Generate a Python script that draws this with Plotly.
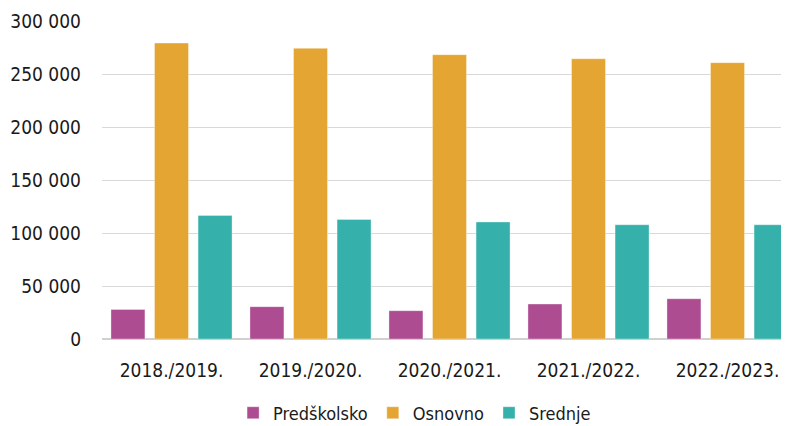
import plotly.graph_objects as go

categories = ["2018./2019.", "2019./2020.", "2020./2021.", "2021./2022.", "2022./2023."]
predskolsko = [27900, 30500, 26700, 33000, 38000]
osnovno = [279200, 274200, 268200, 264400, 260700]
srednje = [116600, 112800, 110400, 107800, 107800]
series_names = ["Predškolsko", "Osnovno", "Srednje"]
colors = ["#AE4C92", "#E5A532", "#35B0AA"]
tick_vals = [0, 50000, 100000, 150000, 200000, 250000, 300000]
tick_text = ["0", "50 000", "100 000", "150 000", "200 000", "250 000", "300 000"]

font_family = "DejaVu Sans Condensed, DejaVu Sans, sans-serif"
fnt = dict(family=font_family, size=19, color="#1a1a1a")

fig = go.Figure()
for name, vals, col in zip(series_names, [predskolsko, osnovno, srednje], colors):
    fig.add_trace(go.Bar(
        x=list(range(len(categories))), y=vals, name=name,
        marker=dict(color=col, line=dict(color="rgba(255,255,255,0.35)", width=1)),
    ))

fig.update_layout(
    width=781, height=418,
    barmode="group", bargap=0.06, bargroupgap=0.22,
    plot_bgcolor="white", paper_bgcolor="white",
    margin=dict(l=94, r=0, t=13, b=87, autoexpand=False),
    font=fnt,
    showlegend=True,
    legend=dict(orientation="h", x=0.455, xanchor="center", yref="container",
                y=0.031, yanchor="middle",
                font=dict(family=font_family, size=18, color="#1a1a1a"),
                itemwidth=30, traceorder="normal"),
    xaxis=dict(
        tickmode="array", tickvals=list(range(len(categories))), ticktext=categories,
        range=[-0.5, 4.4424], showgrid=False, showline=False, ticks="",
        tickfont=fnt, ticklabelstandoff=18, automargin=False,
    ),
    yaxis=dict(
        tickmode="array", tickvals=tick_vals, ticktext=tick_text,
        range=[0, 300000], showgrid=True, gridcolor="#d9d9d9", gridwidth=1.3,
        zeroline=True, zerolinecolor="#d0d0d0", zerolinewidth=1.5,
        showline=False, ticks="", ticklabelstandoff=20, tickfont=fnt, automargin=False,
    ),
)

fig.write_html("out.html")
